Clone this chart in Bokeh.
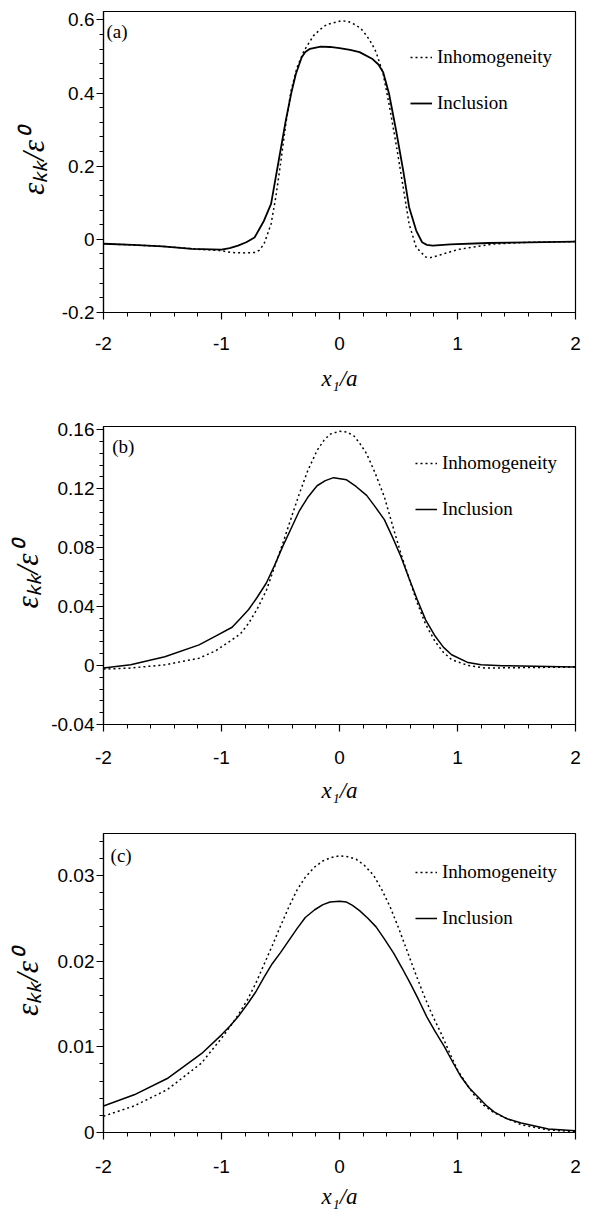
from bokeh.plotting import figure
from bokeh.models import FixedTicker, Legend, LegendItem, Label, Range1d
from bokeh.layouts import column
from bokeh.embed import file_html
from bokeh.resources import INLINE

# ---------------- data ----------------
# panel (a)
xa_incl = [-2.0, -1.75, -1.5, -1.25, -1.0, -0.93, -0.86, -0.79, -0.72, -0.64, -0.58, -0.54,
           -0.50, -0.455, -0.41, -0.37, -0.32, -0.29, -0.25, -0.16, -0.08, 0.0, 0.09, 0.17,
           0.28, 0.33, 0.37, 0.42, 0.48, 0.54, 0.59, 0.65, 0.70, 0.74, 0.79, 0.94, 1.26,
           1.6, 2.0]
ya_incl = [-0.012, -0.015, -0.019, -0.026, -0.028, -0.024, -0.017, -0.008, 0.005, 0.051,
           0.097, 0.17, 0.243, 0.325, 0.398, 0.452, 0.498, 0.512, 0.521, 0.527, 0.526,
           0.523, 0.518, 0.512, 0.493, 0.478, 0.457, 0.398, 0.297, 0.188, 0.088, 0.024,
           -0.008, -0.015, -0.017, -0.014, -0.010, -0.008, -0.006]
xa_inh = [-2.0, -1.5, -1.2, -1.0, -0.92, -0.80, -0.72, -0.68, -0.64, -0.58, -0.54, -0.50,
          -0.455, -0.41, -0.36, -0.30, -0.22, -0.16, -0.11, 0.02, 0.08, 0.145, 0.19, 0.23,
          0.27, 0.31, 0.37, 0.42, 0.48, 0.54, 0.59, 0.65, 0.73, 0.77, 0.85, 1.0, 1.3, 1.6,
          2.0]
ya_inh = [-0.012, -0.019, -0.027, -0.031, -0.036, -0.037, -0.036, -0.030, -0.013, 0.042,
          0.115, 0.206, 0.316, 0.407, 0.47, 0.516, 0.557, 0.575, 0.587, 0.598, 0.595, 0.585,
          0.573, 0.557, 0.537, 0.512, 0.452, 0.37, 0.26, 0.142, 0.042, -0.022, -0.048,
          -0.050, -0.043, -0.028, -0.013, -0.008, -0.006]

# panel (b)
xb = [-2.0, -1.77, -1.48, -1.19, -1.05, -0.91, -0.84, -0.77, -0.70, -0.62, -0.55, -0.48,
      -0.41, -0.34, -0.27, -0.19, -0.12, -0.05, 0.06, 0.14, 0.23, 0.30, 0.38, 0.45, 0.52,
      0.59, 0.66, 0.73, 0.81, 0.88, 0.95, 1.09, 1.2, 1.38, 2.0]
yb_incl = [-0.0017, 0.0005, 0.006, 0.014, 0.020, 0.026, 0.032, 0.038, 0.046, 0.056, 0.068,
           0.081, 0.093, 0.105, 0.114, 0.122, 0.1255, 0.1275, 0.126, 0.1215, 0.1155, 0.108,
           0.099, 0.087, 0.074, 0.059, 0.0445, 0.031, 0.020, 0.0125, 0.0073, 0.002, 0.0005,
           -0.0001, -0.001]
xb_inh = [-2.0, -1.77, -1.48, -1.19, -1.05, -0.91, -0.84, -0.77, -0.70, -0.62, -0.55, -0.48,
          -0.41, -0.34, -0.27, -0.19, -0.13, -0.08, 0.0, 0.06, 0.12, 0.17, 0.23, 0.30, 0.38,
          0.45, 0.52, 0.59, 0.66, 0.73, 0.81, 0.88, 0.95, 1.09, 1.23, 2.0]
yb_inh = [-0.0024, -0.0017, 0.0005, 0.005, 0.010, 0.0175, 0.0215, 0.0287, 0.038, 0.051,
          0.067, 0.083, 0.100, 0.1167, 0.132, 0.146, 0.153, 0.157, 0.159, 0.1585, 0.156,
          0.151, 0.1437, 0.131, 0.1145, 0.095, 0.076, 0.059, 0.0423, 0.028, 0.0163, 0.009,
          0.004, 0.0, -0.0017, -0.001]

# panel (c)
xc = [-2.0, -1.74, -1.46, -1.17, -1.0, -0.93, -0.86, -0.78, -0.71, -0.64, -0.57, -0.50,
      -0.43, -0.36, -0.29, -0.21, -0.14, -0.08, 0.0, 0.06, 0.11, 0.17, 0.24, 0.31, 0.38,
      0.46, 0.53, 0.6, 0.67, 0.74, 0.81, 0.89, 0.96, 1.03, 1.1, 1.17, 1.24, 1.31, 1.42,
      1.54, 1.77, 2.0]
yc_incl = [0.0031, 0.0044, 0.0063, 0.0092, 0.0114, 0.0124, 0.0135, 0.0150, 0.0164, 0.0181,
           0.0197, 0.0210, 0.0224, 0.0238, 0.0251, 0.0260, 0.0266, 0.0269, 0.0270, 0.0269,
           0.0265, 0.0259, 0.0250, 0.0240, 0.0226, 0.0209, 0.0192, 0.0174, 0.0155, 0.0135,
           0.0118, 0.0100, 0.0082, 0.0065, 0.0052, 0.0042, 0.0032, 0.0024, 0.0016, 0.0011,
           0.0004, 0.0002]
xc_inh = [-2.0, -1.74, -1.46, -1.17, -1.0, -0.93, -0.86, -0.78, -0.71, -0.64, -0.57, -0.50,
          -0.43, -0.36, -0.29, -0.21, -0.14, -0.07, 0.0, 0.07, 0.14, 0.21, 0.29, 0.36, 0.43,
          0.50, 0.57, 0.64, 0.71, 0.78, 0.86, 0.93, 1.0, 1.07, 1.14, 1.22, 1.31, 1.54, 1.77,
          2.0]
yc_inh = [0.0019, 0.0031, 0.0050, 0.0081, 0.0110, 0.0123, 0.0137, 0.0155, 0.0174, 0.0196,
          0.0218, 0.0241, 0.0263, 0.0283, 0.0298, 0.0310, 0.0317, 0.0321, 0.0323, 0.0322,
          0.0319, 0.0312, 0.0300, 0.0283, 0.0263, 0.0239, 0.0213, 0.0187, 0.0162, 0.0139,
          0.0116, 0.0094, 0.0073, 0.0058, 0.0044, 0.0032, 0.0023, 0.0009, 0.0003, 0.0001]

# ticks
x_ticks = [-2, -1, 0, 1, 2]
x_tick_labels = ["-2", "-1", "0", "1", "2"]
x_minor = [-2 + 0.2 * i for i in range(21)]

ya_ticks = [-0.2, 0.0, 0.2, 0.4, 0.6]
ya_tick_labels = ["-0.2", "0", "0.2", "0.4", "0.6"]
ya_minor = [-0.2 + 0.04 * i for i in range(21)]

yb_ticks = [-0.04, 0.0, 0.04, 0.08, 0.12, 0.16]
yb_tick_labels = ["-0.04", "0", "0.04", "0.08", "0.12", "0.16"]
yb_minor = [-0.04 + 0.008 * i for i in range(26)]

yc_ticks = [0.0, 0.01, 0.02, 0.03]
yc_tick_labels = ["0", "0.01", "0.02", "0.03"]
yc_minor = [0.002 * i for i in range(18)]

series_names = ["Inhomogeneity", "Inclusion"]
panel_tags = ["(a)", "(b)", "(c)"]
x_title = "x\u2081/a"
y_title = "\u03b5\u2096\u2096/\u03b5\u2070"

W = 585
BL = 103
BR = 10


def make_panel(xi, yi, xs, ys, yrng, yt, ytl, ym, tag, tagxy, legxy, h, bt, bb,
               solid_w, xstand, xlab_stand, ylab_stand):
    p = figure(width=W, height=h, x_range=Range1d(-2, 2), y_range=Range1d(*yrng),
               output_backend="svg", toolbar_location=None,
               min_border_left=BL, min_border_right=BR, min_border_top=bt,
               min_border_bottom=bb)
    p.xgrid.visible = False
    p.ygrid.visible = False
    p.outline_line_color = "black"
    p.outline_line_width = 1.2
    p.background_fill_color = "white"
    p.border_fill_color = "white"

    r_inh = p.line(xi, yi, line_color="black", line_width=1.5, line_dash="2 3")
    r_inc = p.line(xs, ys, line_color="black", line_width=solid_w)

    p.xaxis.ticker = FixedTicker(ticks=x_ticks, minor_ticks=x_minor)
    p.xaxis.major_label_overrides = dict(zip(x_ticks, x_tick_labels))
    p.yaxis.ticker = FixedTicker(ticks=yt, minor_ticks=ym)
    p.yaxis.major_label_overrides = dict(zip(yt, ytl))

    for ax in (p.xaxis[0], p.yaxis[0]):
        ax.axis_line_width = 1.2
        ax.axis_line_color = "black"
        ax.major_tick_line_color = "black"
        ax.minor_tick_line_color = "black"
        ax.major_tick_line_width = 1.2
        ax.minor_tick_line_width = 1.0
        ax.major_tick_in = 0
        ax.minor_tick_in = 0
        ax.major_tick_out = 7
        ax.minor_tick_out = 4
        ax.major_label_text_font = "Liberation Sans"
        ax.major_label_text_font_size = "19px"
        ax.major_label_text_color = "black"
        ax.axis_label_text_font = "Liberation Serif"
        ax.axis_label_text_font_style = "italic"
        ax.axis_label_text_color = "black"

    p.xaxis.major_label_standoff = xstand
    p.xaxis.axis_label = x_title
    p.xaxis.axis_label_text_font_size = "23px"
    p.xaxis.axis_label_standoff = xlab_stand

    p.yaxis.major_label_standoff = 2
    p.yaxis.axis_label = y_title
    p.yaxis.axis_label_text_font_size = "31px"
    p.yaxis.axis_label_standoff = ylab_stand

    lab = Label(x=tagxy[0], y=tagxy[1], text=tag, text_font="Liberation Serif",
                text_font_size="19px", text_baseline="middle", text_align="left",
                text_color="black")
    p.add_layout(lab)

    leg = Legend(items=[LegendItem(label=series_names[0], renderers=[r_inh]),
                        LegendItem(label=series_names[1], renderers=[r_inc])],
                 location=legxy, orientation="vertical", glyph_width=22, glyph_height=22,
                 label_height=22, label_standoff=5, spacing=24, padding=0, margin=0,
                 border_line_alpha=0, background_fill_alpha=0,
                 label_text_font="Liberation Serif", label_text_font_size="19px",
                 label_text_color="black")
    p.add_layout(leg)
    return p


pa = make_panel(xa_inh, ya_inh, xa_incl, ya_incl, (-0.2, 0.623), ya_ticks, ya_tick_labels,
                ya_minor, panel_tags[0], (-1.975, 0.569), (307, 198), 398, 11, 86,
                1.8, 17, 13, 8)
pb = make_panel(xb_inh, yb_inh, xb, yb_incl, (-0.04, 0.1622), yb_ticks, yb_tick_labels,
                yb_minor, panel_tags[1], (-1.926, 0.1484), (312, 204), 407, 28, 80,
                1.5, 19, 11, 3)
pc = make_panel(xc_inh, yc_inh, xc, yc_incl, (0.0, 0.0349), yc_ticks, yc_tick_labels,
                yc_minor, panel_tags[2], (-1.94, 0.03233), (312, 203), 406, 28, 78,
                1.5, 20, 8, 10)

layout = column(pa, pb, pc, spacing=0)
open("out.html", "w").write(file_html(layout, INLINE))
